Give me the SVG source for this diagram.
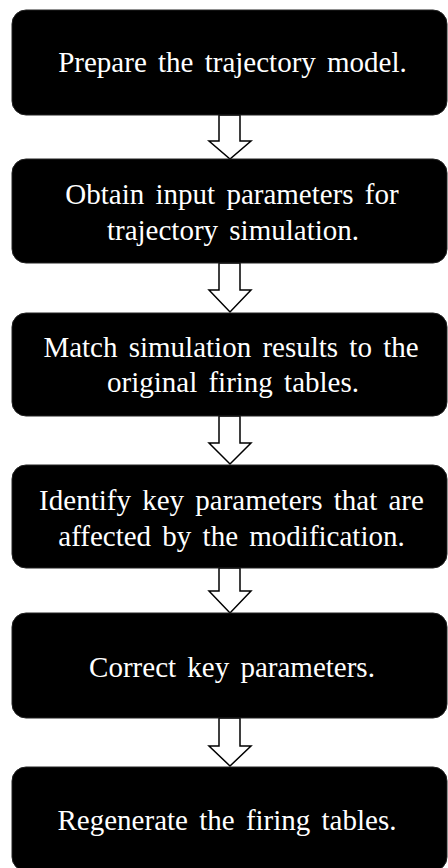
<svg xmlns="http://www.w3.org/2000/svg" width="448" height="868" viewBox="0 0 448 868">
<style>
.box{fill:#000;stroke:#222;stroke-width:1}
.t{fill:#fff;font-family:"Liberation Serif","Times New Roman",serif;font-size:29px;word-spacing:4px;text-anchor:middle}
.arr{fill:#fff;stroke:#000;stroke-width:1.5;stroke-linejoin:miter}
</style>
<rect width="448" height="868" fill="#fff"/>
<g id="connectors">
<polygon class="arr" points="219,115 240,115 240,141 251,141 230,159 209,141 219,141"/>
<polygon class="arr" points="219,263 240,263 240,290 251,290 230,312 209,290 219,290"/>
<polygon class="arr" points="219,416 240,416 240,443 251,443 230,464 209,443 219,443"/>
<polygon class="arr" points="219,568 240,568 240,591 251,591 230,613 209,591 219,591"/>
<polygon class="arr" points="219,718 240,718 240,746 251,746 230,766 209,746 219,746"/>
</g>
<g id="n1"><rect class="box" x="12" y="10" width="435" height="105" rx="14"/>
<text class="t" x="232.5" y="72">Prepare the trajectory model.</text></g>
<g id="n2"><rect class="box" x="12" y="159" width="435" height="104" rx="14"/>
<text class="t" x="232" y="204">Obtain input parameters for</text>
<text class="t" x="233" y="240">trajectory simulation.</text></g>
<g id="n3"><rect class="box" x="12" y="313" width="435" height="103" rx="14"/>
<text class="t" x="231" y="357">Match simulation results to the</text>
<text class="t" x="233" y="392">original firing tables.</text></g>
<g id="n4"><rect class="box" x="12" y="465" width="435" height="103" rx="14"/>
<text class="t" x="231.5" y="510">Identify key parameters that are</text>
<text class="t" x="231.5" y="546">affected by the modification.</text></g>
<g id="n5"><rect class="box" x="12" y="613" width="435" height="105" rx="14"/>
<text class="t" x="232" y="677">Correct key parameters.</text></g>
<g id="n6"><rect class="box" x="12" y="767" width="435" height="104" rx="14"/>
<text class="t" x="227" y="830">Regenerate the firing tables.</text></g>
</svg>
